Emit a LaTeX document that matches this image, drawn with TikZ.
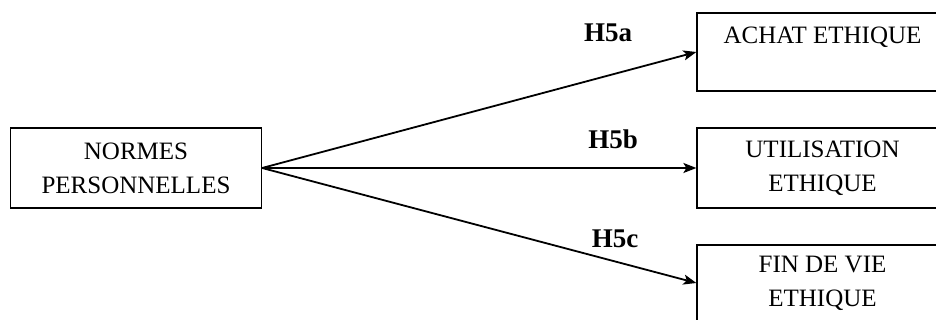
\documentclass[tikz,border=0pt]{standalone}
\usepackage{fontspec}
\setmainfont{Liberation Serif}
\usetikzlibrary{arrows.meta}
\begin{document}
\begin{tikzpicture}[x=1pt,y=-1pt,
  box/.style={draw=black,line width=1.2pt,minimum width=251pt,minimum height=80pt,inner sep=0pt,align=center,
    font=\fontsize{25}{34}\selectfont},
  lab/.style={font=\fontsize{27}{30}\selectfont\bfseries},
  arr/.style={line width=1.8pt,-{Stealth[length=13pt,width=10pt,inset=3pt]}}]
\useasboundingbox (0,0) rectangle (936,320);
\clip (0,0) rectangle (936,320);
\node[box] (np) at (136,168) {NORMES\\PERSONNELLES};
\node[box,minimum height=78pt] (ach) at (822.5,52) {};
\node[font=\fontsize{25}{30}\selectfont,anchor=center] (acht) at (822.5,37) {ACHAT ETHIQUE};
\node[box] (uti) at (822.5,168) {UTILISATION\\ETHIQUE};
\node[box,minimum height=76pt] (fin) at (822.5,283) {FIN DE VIE\\ETHIQUE};
\draw[arr] (np.east) -- (ach.west);
\draw[arr] (np.east) -- (uti.west);
\draw[arr] (np.east) -- (fin.west);
\node[lab] (ha) at (608,33) {H5a};
\node[lab] (hb) at (613,139) {H5b};
\node[lab] (hc) at (615,239) {H5c};
\end{tikzpicture}
\end{document}
